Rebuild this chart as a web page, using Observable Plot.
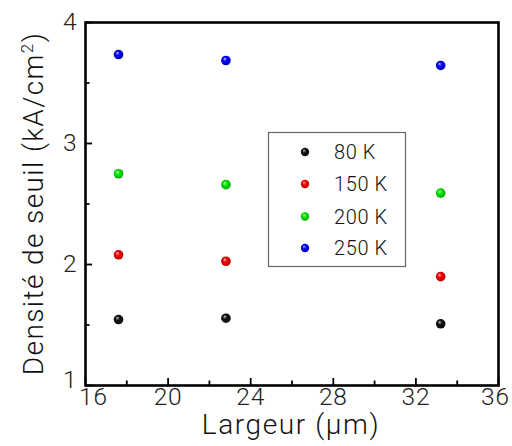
<!DOCTYPE html>
<html><head><meta charset="utf-8">
<script src="https://cdn.jsdelivr.net/npm/d3@7"></script>
<script src="https://cdn.jsdelivr.net/npm/@observablehq/plot@0.6"></script>
<style>body{margin:0;background:#fff} svg{display:block}</style>
</head><body><div id="chart"></div>
<script>
// ---- data ----
const largeur = [17.6, 22.8, 33.2];
const seuil80 = [1.545, 1.556, 1.51];
const seuil150 = [2.08, 2.027, 1.90];
const seuil200 = [2.75, 2.66, 2.59];
const seuil250 = [3.735, 3.686, 3.645];
const seriesNames = ["80 K", "150 K", "200 K", "250 K"];
const seriesColors = ["#111111", "#ff0000", "#00ee00", "#0000ff"];
const xMajor = [16, 20, 24, 28, 32, 36];
const xMinor = [18, 22, 26, 30, 34];
const yMajor = [1, 2, 3, 4];
const yMinor = [1.5, 2.5, 3.5];
const xTitle = "Largeur (µm)";
const yTitleMain = "Densité de seuil (kA/cm";
const yTitleSup = "2";
const yTitleEnd = ")";

const seriesValues = [seuil80, seuil150, seuil200, seuil250];
const font = "Roboto, 'Liberation Sans', sans-serif";

const W = 512, H = 446, ML = 85, MR = 14, MT = 22, MB = 61;
const innerW = W - ML - MR, innerH = H - MT - MB;

const dotMarks = seriesValues.map((vals, i) =>
  Plot.dot(largeur.map((x, k) => ({x, y: vals[k]})), {x: "x", y: "y", r: 4.8, fill: `url(#ball${i})`, stroke: null})
);

const fmt = d => String(d);
const txt = {fontSize: 24.5, fill: "#222", label: null, tickSize: 0, tickFormat: fmt};
const svg = Plot.plot({
  width: W, height: H,
  marginLeft: ML, marginRight: MR, marginTop: MT, marginBottom: MB,
  x: {domain: [16, 36]},
  y: {domain: [1, 4]},
  style: {fontFamily: font, fontWeight: 300, background: "white", overflow: "visible"},
  marks: [
    // inward ticks
    Plot.ruleX(xMajor, {x: d => d, insetTop: innerH - 7, stroke: "black", strokeWidth: 1.8}),
    Plot.ruleX(xMinor, {x: d => d, insetTop: innerH - 4.5, stroke: "black", strokeWidth: 1.8}),
    Plot.ruleY(yMajor, {y: d => d, insetRight: innerW - 7, stroke: "black", strokeWidth: 1.8}),
    Plot.ruleY(yMinor, {y: d => d, insetRight: innerW - 4.5, stroke: "black", strokeWidth: 1.8}),
    // tick labels
    Plot.axisX(xMajor.slice(1, -1), {...txt, tickPadding: 2}),
    Plot.axisX(xMajor.slice(0, 1), {...txt, tickPadding: 2, dx: 8}),
    Plot.axisX(xMajor.slice(-1), {...txt, tickPadding: 2, dx: -3}),
    Plot.axisY(yMajor.slice(1), {...txt, tickPadding: 8}),
    Plot.axisY(yMajor.slice(0, 1), {...txt, tickPadding: 8, dy: -5}),
    ...dotMarks,
    Plot.frame({stroke: "black", strokeWidth: 2.6})
  ]
});

const s = d3.select(svg);
s.selectAll("g[aria-label='x-axis tick label'] text, g[aria-label='y-axis tick label'] text")
  .attr("letter-spacing", 0.8);
// sphere gradients
const defs = s.insert("defs", ":first-child");
seriesColors.forEach((c, i) => {
  const g = defs.append("radialGradient").attr("id", `ball${i}`)
    .attr("cx", "0.5").attr("cy", "0.5").attr("r", "0.55").attr("fx", "0.35").attr("fy", "0.3");
  g.append("stop").attr("offset", "0").attr("stop-color", d3.interpolateRgb(c, "white")(0.75));
  g.append("stop").attr("offset", "0.4").attr("stop-color", c);
  g.append("stop").attr("offset", "1").attr("stop-color", d3.color(c).darker(1.2).formatHex());
});

// axis titles
s.append("text").attr("x", 291).attr("y", 434).attr("text-anchor", "middle")
  .attr("font-size", 28).attr("font-weight", 300).attr("font-family", font).attr("fill", "#111")
  .attr("letter-spacing", 1.6).text(xTitle);
const yt = s.append("text").attr("transform", "translate(43,203.5) rotate(-90)").attr("text-anchor", "middle")
  .attr("font-size", 28).attr("font-weight", 300).attr("font-family", font).attr("fill", "#111")
  .attr("letter-spacing", 1.4);
yt.append("tspan").text(yTitleMain);
yt.append("tspan").attr("baseline-shift", "super").attr("font-size", 17).text(yTitleSup);
yt.append("tspan").text(yTitleEnd);

// legend
const lg = s.append("g");
lg.append("rect").attr("x", 268.5).attr("y", 132.5).attr("width", 137).attr("height", 134)
  .attr("fill", "white").attr("stroke", "#666").attr("stroke-width", 1.2);
const rowsY = [152, 184, 216.5, 248];
seriesNames.forEach((n, i) => {
  lg.append("circle").attr("cx", 305).attr("cy", rowsY[i]).attr("r", 4.2).attr("fill", `url(#ball${i})`);
  lg.append("text").attr("x", 334).attr("y", rowsY[i]).attr("dy", "0.36em").attr("text-anchor", "start")
    .attr("font-size", 20).attr("font-weight", 300).attr("font-family", font).attr("fill", "#111")
    .attr("letter-spacing", 0.6).text(n);
});

document.getElementById("chart").appendChild(svg);
</script>
</body></html>
